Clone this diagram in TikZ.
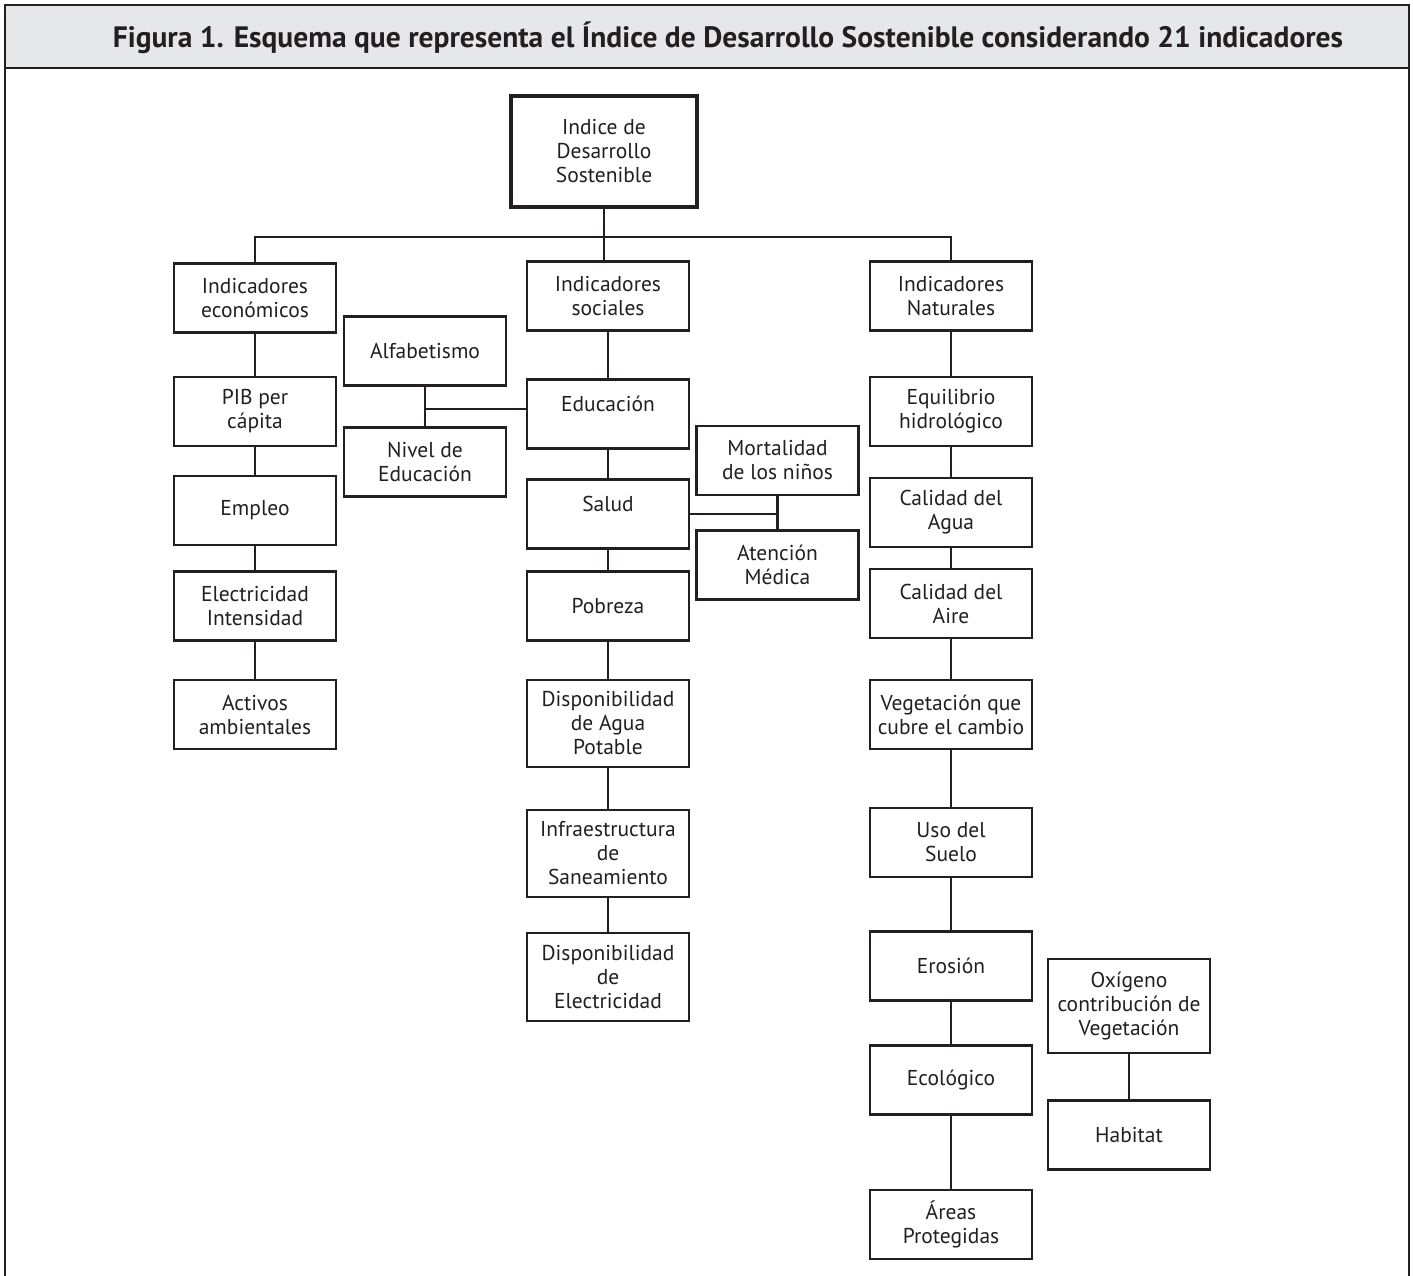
\documentclass[tikz,border=0pt]{standalone}
\usepackage{fontspec}
\setmainfont{PT Sans}
\usepackage{tikz}
\usetikzlibrary{positioning}
\definecolor{ink}{HTML}{231F20}
\definecolor{bar}{HTML}{E6E7E8}

\begin{document}
\begin{tikzpicture}[x=1pt,y=-1pt,
  box/.style={draw=ink,line width=2.6pt,minimum width=162pt,minimum height=69pt,
    inner sep=0pt,align=center,text=ink,font=\fontsize{21.5}{24}\selectfont},
  high/.style={text depth=20pt},
  link/.style={draw=ink,line width=2.6pt}]
  \useasboundingbox (0,0) rectangle (1413,1276);
  % frame and title
  \fill[bar] (5,5) rectangle (1409,68);
  \draw[ink,line width=2.6pt] (5,1276) -- (5,5) -- (1409,5) -- (1409,1276);
  \draw[ink,line width=2.6pt] (5,68) -- (1409,68);
  \node[text=ink,font=\fontsize{29.5}{34}\selectfont\bfseries] (title) at (728,38)
    {Figura 1. Esquema que representa el Índice de Desarrollo Sostenible considerando 21 indicadores};
  % root
  \node[box,line width=4.5pt,minimum width=186pt,minimum height=111pt] (root) at (604,151.5)
    {Indice de\\Desarrollo\\Sostenible};
  % columns
  \foreach \n/\y/\t in {ec/298/{Indicadores\\económicos},pib/411.5/{PIB per\\cápita},
      emp/510.5/Empleo,elec/606/{Electricidad\\Intensidad},act/714.5/{Activos\\ambientales}}
    \node[box] (\n) at (255,\y) {\t};
  \foreach \n/\y/\h/\t in {soc/296/69/{Indicadores\\sociales},pob/606/69/Pobreza,
      agua/723.5/87/{Disponibilidad\\de Agua\\Potable},inf/853.5/87/{Infraestructura\\de\\Saneamiento},
      del/977/88/{Disponibilidad\\de\\Electricidad}}
    \node[box,minimum height=\h pt] (\n) at (608,\y) {\t};
  \node[box,high] (edu) at (608,414) {Educación};
  \node[box,high] (sal) at (608,514) {Salud};
  \foreach \n/\y/\t in {nat/296/{Indicadores\\Naturales},equ/411.5/{Equilibrio\\hidrológico},
      cag/512.5/{Calidad del\\Agua},cai/603.5/{Calidad del\\Aire},
      veg/714.5/{Vegetación que\\cubre el cambio},uso/842.5/{Uso del\\Suelo},
      ero/966/Erosión,eco/1080/Ecológico,are/1224.5/{Áreas\\Protegidas}}
    \node[box] (\n) at (951,\y) {\t};
  % side boxes
  \node[box] (alf) at (425,351) {Alfabetismo};
  \node[box] (niv) at (425,462) {Nivel de\\Educación};
  \node[box] (mor) at (777.5,460.5) {Mortalidad\\de los niños};
  \node[box] (ate) at (777.5,565) {Atención\\Médica};
  \node[box,minimum height=94pt] (oxi) at (1129,1006) {Oxígeno\\contribución de\\Vegetación};
  \node[box] (hab) at (1129,1135) {Habitat};
  % connectors
  \coordinate (bus) at (604,237);
  \draw[link] (root) -- (bus);
  \draw[link] (ec.north) |- (bus) -| (nat.north);
  \draw[link] (bus) -- (bus |- soc.north);
  \foreach \a/\b in {ec/pib,pib/emp,emp/elec,elec/act,
      soc/edu,edu/sal,sal/pob,pob/agua,agua/inf,inf/del,
      nat/equ,equ/cag,cag/cai,cai/veg,veg/uso,uso/ero,ero/eco,eco/are,
      alf/niv,mor/ate,oxi/hab}
    \draw[link] (\a) -- (\b);
  \draw[link] (edu.west |- 0,409) -- (alf.south |- 0,409);
  \draw[link] (sal.east) -- (sal.east -| mor.south);
\end{tikzpicture}
\end{document}
